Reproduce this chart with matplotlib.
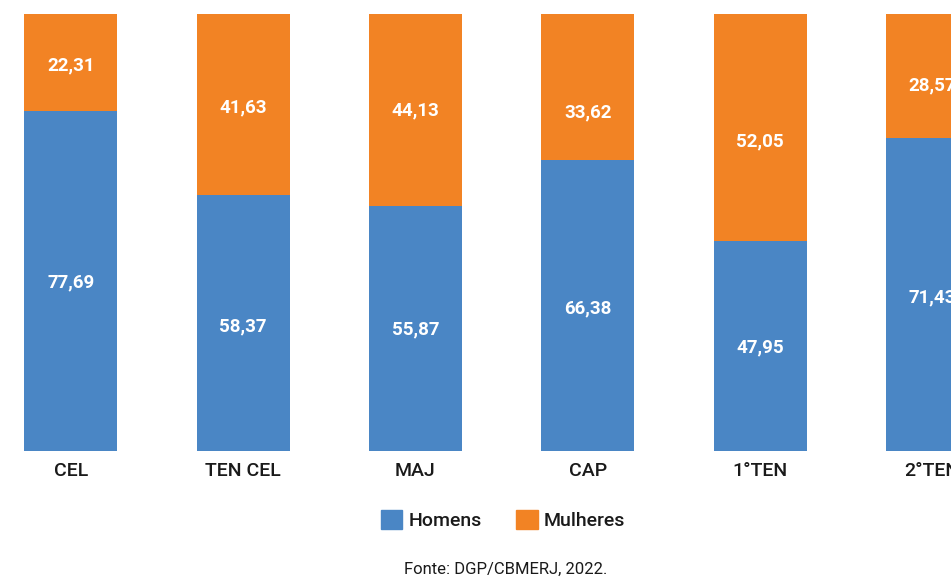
import matplotlib
matplotlib.use("Agg")
import matplotlib.pyplot as plt
from matplotlib.patches import Patch

categories = ["CEL", "TEN CEL", "MAJ", "CAP", "1°TEN", "2°TEN"]
homens = [77.69, 58.37, 55.87, 66.38, 47.95, 71.43]
mulheres = [22.31, 41.63, 44.13, 33.62, 52.05, 28.57]

# label placement nudges (pixels, downward) to follow the reference layout
mulheres_label_nudge = [3, 3, 1, 25, 14, 10]
homens_label_nudge = [2, 3, 1, 3, 2, 3]

blue = "#4A86C5"
orange = "#F28324"
dark = "#1a1a1a"

plt.rcParams["font.family"] = ["Roboto", "DejaVu Sans"]

W, H = 951, 578
y_bottom, y_top = 450.5, 13.5
fig = plt.figure(figsize=(W / 100, H / 100), dpi=100)
ax = fig.add_axes([0, (H - y_bottom) / H, 1, (y_bottom - y_top) / H])

x = list(range(len(categories)))
width = 93 / 172.3
ax.bar(x, homens, width=width, color=blue, label="Homens")
ax.bar(x, mulheres, width=width, bottom=homens, color=orange, label="Mulheres")

def fmt(v):
    return f"{v:.2f}".replace(".", ",")

for i, (h, m) in enumerate(zip(homens, mulheres)):
    ax.annotate(fmt(h), (i, h / 2), xytext=(0, -homens_label_nudge[i]),
                textcoords="offset pixels", ha="center", va="center",
                color="white", fontsize=13.5, fontweight="bold")
    ax.annotate(fmt(m), (i, h + m / 2), xytext=(0, -mulheres_label_nudge[i]),
                textcoords="offset pixels", ha="center", va="center",
                color="white", fontsize=13.5, fontweight="bold")

ax.set_xlim(-70.8 / 172.3, (W - 70.8) / 172.3)
ax.set_ylim(0, 100)
ax.set_xticks(x)
ax.set_xticklabels(categories, fontsize=14, color=dark, fontweight="medium")
ax.tick_params(axis="x", length=0, pad=8)
ax.set_yticks([])
for s in ax.spines.values():
    s.set_visible(False)

handles = [Patch(color=blue, label="Homens"), Patch(color=orange, label="Mulheres")]
fig.legend(handles=handles, loc="center", bbox_to_anchor=(503 / W, 1 - 520 / H),
           ncol=2, frameon=False, handlelength=1.1, handleheight=1.1,
           handletextpad=0.3, columnspacing=1.8, labelcolor=dark,
           prop={"family": ["Roboto", "DejaVu Sans"], "size": 14, "weight": "medium"})

fig.text(506 / W, 1 - 569 / H, "Fonte: DGP/CBMERJ, 2022.", ha="center", va="center",
         fontsize=12, color=dark)

fig.savefig("out.png", dpi=100)
